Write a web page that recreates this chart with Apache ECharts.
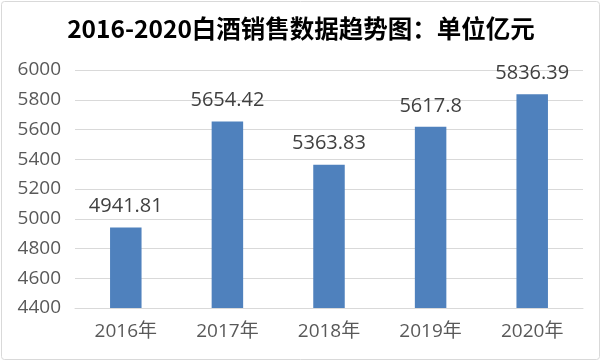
<!DOCTYPE html>
<html><head><meta charset="utf-8">
<script src="https://cdn.jsdelivr.net/npm/echarts@6/dist/echarts.min.js"></script>
<style>html,body{margin:0;padding:0;background:#fff}#c{width:602px;height:362px}</style>
</head><body><div id="c"></div>
<script>
const categories = ['2016年','2017年','2018年','2019年','2020年'];
const values = [4941.81, 5654.42, 5363.83, 5617.8, 5836.39];
const titleText = '2016-2020白酒销售数据趋势图：单位亿元';
const numFont = '"Open Sans","Noto Sans CJK SC",sans-serif';
const chart = echarts.init(document.getElementById('c'));
chart.setOption({
  backgroundColor: '#fff',
  animation: false,
  graphic: [{type:'rect', shape:{x:1.5,y:1.5,width:598,height:358,r:3}, style:{fill:'none',stroke:'#d9d9d9',lineWidth:1}, silent:true}],
  title: {text: titleText, left: 'center', top: 11, textStyle:{fontFamily:'"Noto Sans CJK SC"', fontWeight:'bold', fontSize:24.5, color:'#000'}},
  grid: {left: 75, right: 19, top: 70, bottom: 54, containLabel:false},
  xAxis: {type:'category', data: categories,
    axisLine:{lineStyle:{color:'#d9d9d9'}}, axisTick:{show:false},
    axisLabel:{fontFamily:numFont, fontSize:19, color:'#595959', margin:14}},
  yAxis: {type:'value', min:4400, max:6000, interval:200,
    axisLine:{show:false}, axisTick:{show:false},
    splitLine:{lineStyle:{color:'#d9d9d9'}},
    axisLabel:{fontFamily:numFont, fontSize:19, color:'#595959', margin:14, formatter: v => String(v)}},
  series: [{type:'bar', data: values, barWidth:'31%', itemStyle:{color:'#4f81bd'},
    label:{show:true, position:'top', distance:11, fontFamily:numFont, fontSize:20, color:'#404040'}}]
});
</script></body></html>
